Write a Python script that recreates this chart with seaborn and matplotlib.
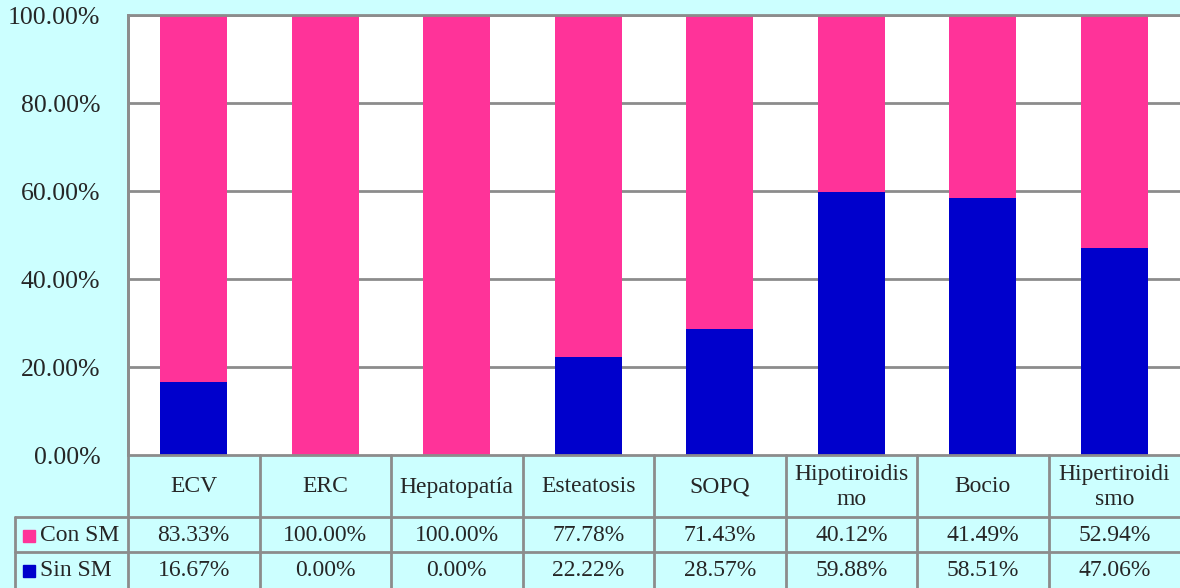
import matplotlib
matplotlib.use("Agg")
import matplotlib.pyplot as plt
import seaborn as sns
import pandas as pd
from matplotlib.lines import Line2D
from matplotlib.patches import Rectangle

categories = ["ECV", "ERC", "Hepatopatía", "Esteatosis", "SOPQ",
              "Hipotiroidismo", "Bocio", "Hipertiroidismo"]
header_labels = ["ECV", "ERC", "Hepatopatía", "Esteatosis", "SOPQ",
                 "Hipotiroidis\nmo", "Bocio", "Hipertiroidi\nsmo"]
con_sm = [83.33, 100.00, 100.00, 77.78, 71.43, 40.12, 41.49, 52.94]
sin_sm = [16.67, 0.00, 0.00, 22.22, 28.57, 59.88, 58.51, 47.06]
yticks = [0, 20, 40, 60, 80, 100]

PINK = "#FF3399"
BLUE = "#0000CC"
BG = "#CCFFFF"
GRID = "#8C8C8C"

sns.set_theme(style="white")
plt.rcParams["font.family"] = ["Liberation Serif", "DejaVu Serif"]

df = pd.DataFrame({"cat": categories, "con": con_sm, "sin": sin_sm})
df["total"] = df["con"] + df["sin"]

W, H = 1180, 588
fig = plt.figure(figsize=(W / 100, H / 100), dpi=100, facecolor=BG)
x0, x1 = 128, 1180
y_top, y_bot = 15, 455
ax = fig.add_axes([x0 / W, 1 - y_bot / H, (x1 - x0) / W, (y_bot - y_top) / H])
ax.set_facecolor("white")

for t in yticks[1:]:
    ax.axhline(t, color=GRID, lw=2, zorder=0)

# stacked bars: full height in pink, lower part in blue
sns.barplot(data=df, x="cat", y="total", color=PINK, width=0.51,
            saturation=1, ax=ax, zorder=2, linewidth=0)
sns.barplot(data=df, x="cat", y="sin", color=BLUE, width=0.51,
            saturation=1, ax=ax, zorder=3, linewidth=0)

ax.set_xlim(-0.5, len(categories) - 0.5)
ax.set_ylim(0, 100)
ax.set_yticks(yticks)
ax.set_yticklabels([f"{v:.2f}%" for v in yticks], fontsize=18.5)
ax.tick_params(axis="y", length=0, pad=20)
ax.set_xticks([])
ax.set_xlabel("")
ax.set_ylabel("")
for side in ["right", "bottom"]:
    ax.spines[side].set_visible(False)
for side in ["left", "top"]:
    ax.spines[side].set_color(GRID)
    ax.spines[side].set_linewidth(2)

# data table below the plot, drawn in figure pixel coordinates
tax = fig.add_axes([0, 0, 1, 1], facecolor="none")
tax.set_xlim(0, W)
tax.set_ylim(H, 0)
tax.axis("off")

col_w = (x1 - x0) / len(categories)
r_head, r1, r2, r_end = 455, 517, 552, 588
lw = 2
tax.add_line(Line2D([x0, x0], [y_top, r_end], color=GRID, lw=lw))
tax.add_line(Line2D([x0, x1], [r_head, r_head], color=GRID, lw=lw))
for y in (r1, r2):
    tax.add_line(Line2D([15, x1], [y, y], color=GRID, lw=lw))
tax.add_line(Line2D([15, 15], [r1, r_end], color=GRID, lw=lw))
for i in range(1, len(categories)):
    xx = x0 + i * col_w
    tax.add_line(Line2D([xx, xx], [r_head, r_end], color=GRID, lw=lw))

fs = 17
for i, lab in enumerate(header_labels):
    cx = x0 + (i + 0.5) * col_w
    tax.text(cx, (r_head + r1) / 2 + 1, lab, ha="center", va="center",
             fontsize=fs, linespacing=1.2)
    tax.text(cx, (r1 + r2) / 2 + 1, f"{con_sm[i]:.2f}%", ha="center",
             va="center", fontsize=fs)
    tax.text(cx, (r2 + r_end) / 2 + 1, f"{sin_sm[i]:.2f}%", ha="center",
             va="center", fontsize=fs)

for (ya, yb), name, col in [((r1, r2), "Con SM", PINK), ((r2, r_end), "Sin SM", BLUE)]:
    cy = (ya + yb) / 2
    tax.add_patch(Rectangle((23, cy - 5), 12, 12, color=col))
    tax.text(40, cy + 1, name, ha="left", va="center", fontsize=fs)

fig.savefig("out.png", dpi=100, facecolor=BG)
